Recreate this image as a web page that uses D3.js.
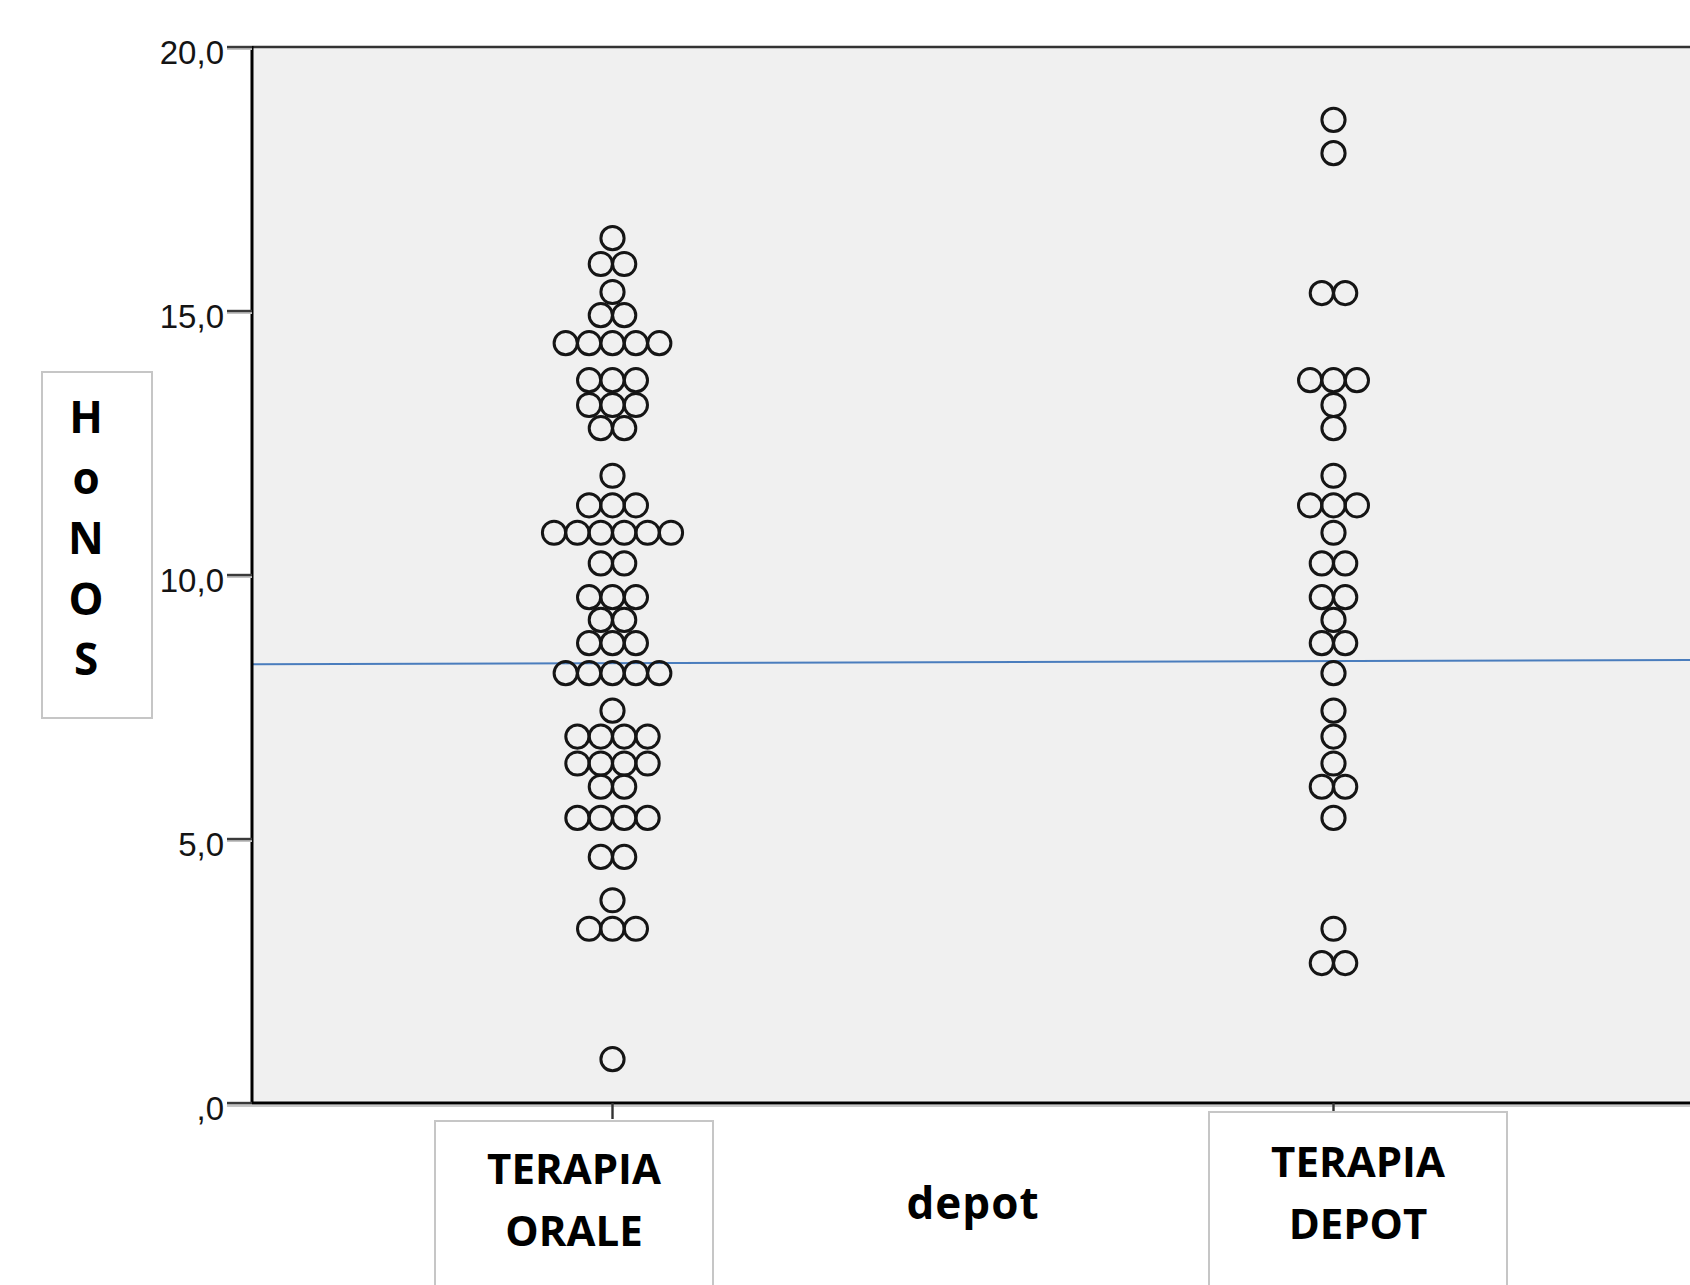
<!DOCTYPE html>
<html>
<head>
<meta charset="utf-8">
<script src="https://cdn.jsdelivr.net/npm/d3@7"></script>
<style>
  html, body { margin: 0; padding: 0; background: #fff; }
  svg { display: block; }
</style>
</head>
<body>
<svg id="chart"></svg>
<script>
// ── Data ─────────────────────────────────────────────
const categories  = ['TERAPIA ORALE', 'TERAPIA DEPOT'];
const catLines    = [['TERAPIA', 'ORALE'], ['TERAPIA', 'DEPOT']];
const yTicks      = [0, 5, 10, 15, 20];
const yTickLabels = [',0', '5,0', '10,0', '15,0', '20,0'];

// bin value (HoNOS) and number of stacked dots in that row
const oraleBins   = [16.38, 15.89, 15.36, 14.92, 14.39, 13.69, 13.22, 12.78,
                     11.88, 11.32, 10.80, 10.22, 9.58, 9.15, 8.71, 8.14,
                     7.43, 6.94, 6.43, 5.99, 5.40, 4.66, 3.84, 3.30, 0.83];
const oraleCounts = [1, 2, 1, 2, 5, 3, 3, 2,
                     1, 3, 6, 2, 3, 2, 3, 5,
                     1, 4, 4, 2, 4, 2, 1, 3, 1];

const depotBins   = [18.62, 17.99, 15.34, 13.69, 13.22, 12.78,
                     11.88, 11.32, 10.80, 10.22, 9.58, 9.15, 8.71, 8.14,
                     7.43, 6.94, 6.43, 5.99, 5.40, 3.30, 2.65];
const depotCounts = [1, 1, 2, 3, 1, 1,
                     1, 3, 1, 2, 2, 1, 2, 1,
                     1, 1, 1, 2, 1, 1, 2];

// fit line: value at left and right plot edges
const fitLine = [8.31, 8.39];

// ── Layout ───────────────────────────────────────────
const W = 1690, H = 1285;
const plot = { left: 252, right: 1694, top: 47, bottom: 1103 };
const dotR = 11.6, dotStep = 23.4;

const svg = d3.select('#chart').attr('width', W).attr('height', H);

const x = d3.scalePoint().domain(categories).range([plot.left, plot.right]).padding(0.5);
const y = d3.scaleLinear().domain([0, 20]).range([plot.bottom, plot.top]);

// Plot background
svg.append('rect')
  .attr('x', plot.left).attr('y', plot.top)
  .attr('width', plot.right - plot.left).attr('height', plot.bottom - plot.top)
  .attr('fill', '#f0f0f0');

// Fit line
svg.append('line')
  .attr('x1', plot.left).attr('x2', plot.right)
  .attr('y1', y(fitLine[0])).attr('y2', y(fitLine[1]))
  .attr('stroke', '#4a7dbd').attr('stroke-width', 2);

// Dots: each row centred on its category
function expand(cat, bins, counts) {
  const pts = [];
  bins.forEach((v, i) => {
    const n = counts[i];
    for (let k = 0; k < n; k++) pts.push({ cat, v, off: k - (n - 1) / 2 });
  });
  return pts;
}
const points = expand(categories[0], oraleBins, oraleCounts)
  .concat(expand(categories[1], depotBins, depotCounts));

svg.selectAll('.dot')
  .data(points)
  .join('circle').attr('class', 'dot')
  .attr('cx', d => x(d.cat) + d.off * dotStep)
  .attr('cy', d => y(d.v))
  .attr('r', dotR)
  .attr('fill', 'none')
  .attr('stroke', '#151515')
  .attr('stroke-width', 3);

// Frame: top border, left axis, bottom axis
svg.append('line')
  .attr('x1', plot.left).attr('x2', plot.right)
  .attr('y1', plot.top).attr('y2', plot.top)
  .attr('stroke', '#333').attr('stroke-width', 2.5);
svg.append('line')
  .attr('x1', plot.left - 25).attr('x2', plot.right)
  .attr('y1', plot.bottom + 3).attr('y2', plot.bottom + 3)
  .attr('stroke', '#c8c8c8').attr('stroke-width', 2);
svg.append('line')
  .attr('x1', plot.left).attr('x2', plot.right)
  .attr('y1', plot.bottom).attr('y2', plot.bottom)
  .attr('stroke', '#000').attr('stroke-width', 3.2);
svg.append('line')
  .attr('x1', plot.left).attr('x2', plot.left)
  .attr('y1', plot.top - 1).attr('y2', plot.bottom + 1)
  .attr('stroke', '#000').attr('stroke-width', 3);

// Y ticks + labels
const yt = svg.append('g');
yTicks.forEach((t, i) => {
  yt.append('line')
    .attr('x1', plot.left - 25).attr('x2', plot.left)
    .attr('y1', y(t) + 2).attr('y2', y(t) + 2)
    .attr('stroke', '#c4c4c4').attr('stroke-width', 2);
  yt.append('line')
    .attr('x1', plot.left - 25).attr('x2', plot.left)
    .attr('y1', y(t)).attr('y2', y(t))
    .attr('stroke', '#3a3a3a').attr('stroke-width', 2.4);
  yt.append('text')
    .attr('x', plot.left - 28).attr('y', y(t) + 17)
    .attr('text-anchor', 'end')
    .attr('font-family', 'Liberation Sans, Arial, sans-serif')
    .attr('font-size', '33px').attr('fill', '#141414')
    .text(yTickLabels[i]);
});

// X ticks
categories.forEach((c, i) => {
  svg.append('line')
    .attr('x1', x(c)).attr('x2', x(c))
    .attr('y1', plot.bottom).attr('y2', plot.bottom + (i === 0 ? 16 : 8))
    .attr('stroke', '#333').attr('stroke-width', 2.4);
});

// Category label boxes
const boxes = [
  { x: 435, y: 1121, w: 278, base: 1184 },
  { x: 1209, y: 1112, w: 298, base: 1177 }
];
const labelFont = "'Open Sans', 'Noto Sans', sans-serif";
boxes.forEach((b, i) => {
  svg.append('rect')
    .attr('x', b.x).attr('y', b.y).attr('width', b.w).attr('height', H - b.y + 10)
    .attr('fill', '#fff').attr('stroke', '#c6c6c6').attr('stroke-width', 2);
  catLines[i].forEach((line, j) => {
    svg.append('text')
      .attr('x', b.x + b.w / 2).attr('y', b.base + j * 62)
      .attr('text-anchor', 'middle')
      .attr('font-family', labelFont).attr('font-weight', 700)
      .attr('font-size', '42px').attr('fill', '#000')
      .text(line);
  });
});

// X axis title
svg.append('text')
  .attr('x', 973).attr('y', 1219)
  .attr('text-anchor', 'middle')
  .attr('font-family', labelFont).attr('font-weight', 700)
  .attr('font-size', '44px').attr('letter-spacing', '1px').attr('fill', '#000')
  .text('depot');

// Y axis title box (stacked letters)
svg.append('rect')
  .attr('x', 42).attr('y', 372).attr('width', 110).attr('height', 346)
  .attr('fill', '#fff').attr('stroke', '#c6c6c6').attr('stroke-width', 2);
const yTitle = svg.append('text')
  .attr('text-anchor', 'middle')
  .attr('font-family', labelFont).attr('font-weight', 700)
  .attr('font-size', '44px').attr('fill', '#000');
'HoNOS'.split('').forEach((ch, i) => {
  yTitle.append('tspan').attr('x', 86).attr('y', 433 + i * 60.5).text(ch);
});
</script>
</body>
</html>
